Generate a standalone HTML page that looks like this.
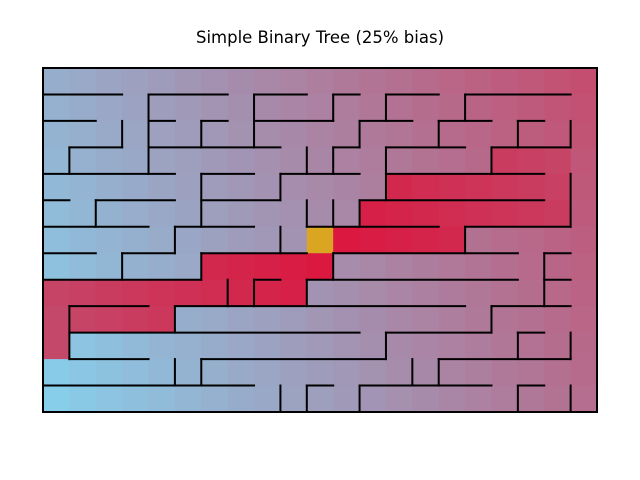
<!DOCTYPE html>
<html><head><meta charset="utf-8"><style>
body{margin:0;background:#fff;width:640px;height:480px;overflow:hidden}
svg{display:block}
</style></head><body>
<svg id="chart" width="640" height="480">
<text x="320" y="43" text-anchor="middle" font-family="DejaVu Sans, Liberation Sans, sans-serif" font-size="16.5" fill="#000">Simple Binary Tree (25% bias)</text>
<g id="cells"></g>
<g id="walls"></g>
</svg>
<script>
const cols = 21, rows = 13;
const startCell = [10, 6];
const pathCells = [
 [10,7],[9,7],[8,7],[7,7],[6,7],
 [9,8],[8,8],[7,8],[6,8],[5,8],[4,8],[3,8],[2,8],[1,8],[0,8],
 [4,9],[3,9],[2,9],[1,9],[0,9],[0,10],
 [11,6],[12,6],[13,6],[14,6],[15,6],
 [12,5],[13,5],[14,5],[15,5],[16,5],[17,5],[18,5],[19,5],
 [13,4],[14,4],[15,4],[16,4],[17,4],[18,4],[19,4],
 [17,3],[18,3],[19,3]
];
const hWalls = [
 [1,0,3],[1,4,7],[1,8,10],[1,11,12],[1,13,15],[1,16,20],
 [2,0,2],[2,4,5],[2,6,7],[2,8,11],[2,12,14],[2,15,17],[2,18,19],
 [3,1,3],[3,4,9],[3,11,12],[3,13,16],[3,17,20],
 [4,0,5],[4,6,8],[4,9,12],[4,13,19],
 [5,0,1],[5,2,5],[5,6,9],[5,12,19],
 [6,0,4],[6,5,8],[6,10,15],[6,16,20],
 [7,0,2],[7,3,5],[7,6,10],[7,11,18],[7,19,20],
 [8,0,6],[8,8,9],[8,10,18],[8,19,20],
 [9,1,4],[9,5,16],[9,17,20],
 [10,1,12],[10,13,17],[10,18,19],
 [11,1,4],[11,6,13],[11,15,20],
 [12,0,8],[12,10,11],[12,12,17],[12,18,19]
];
const vWalls = [
 [4,1,4],[8,1,3],[11,1,2],[13,1,2],[16,1,2],
 [3,2,3],[6,2,3],[12,2,3],[15,2,3],[18,2,3],[20,2,3],
 [1,3,4],[10,3,4],[11,3,4],[13,3,5],[17,3,4],
 [20,4,6],[6,4,6],[9,4,5],
 [2,5,6],[10,5,6],[11,5,6],[12,5,6],
 [5,6,7],[9,6,7],[16,6,7],
 [3,7,8],[6,7,8],[11,7,8],[19,7,9],
 [7,8,9],[8,8,9],[10,8,9],
 [1,9,11],[5,9,10],[17,9,10],
 [13,10,11],[18,10,11],[20,10,11],
 [5,11,12],[6,11,12],[14,11,12],[15,11,12],
 [9,12,13],[10,12,13],[12,12,13],[18,12,13],[20,12,13]
];
const X0 = 43, X1 = 597, Y0 = 68, Y1 = 412;
const cw = (X1 - X0) / cols, ch = (Y1 - Y0) / rows;
const xs = c => X0 + c * cw, ys = r => Y0 + r * ch;
const NS = 'http://www.w3.org/2000/svg';
const mix = (a, b, t) => a.map((v, i) => Math.round(v + (b[i] - v) * t));
const blue = [135,206,235], pink = [196,78,112], crimson = [220,20,60], farPath = [196,72,106];
const cellsG = document.getElementById('cells');
const onPath = new Map(pathCells.map(p => [p[0]+','+p[1], p]));
for (let r = 0; r < rows; r++) for (let c = 0; c < cols; c++) {
  let col;
  if (c === startCell[0] && r === startCell[1]) col = [218,165,32];
  else if (onPath.has(c+','+r)) {
    const d = Math.abs(c - startCell[0]) + Math.abs(r - startCell[1]);
    col = mix(crimson, farPath, Math.min(1, d / 13));
  } else {
    const t = 0.75 * c / (cols - 1) + 0.25 * (rows - 1 - r) / (rows - 1);
    col = mix(blue, pink, t);
  }
  const rect = document.createElementNS(NS, 'rect');
  rect.setAttribute('x', xs(c)); rect.setAttribute('y', ys(r));
  rect.setAttribute('width', cw + 0.6); rect.setAttribute('height', ch + 0.6);
  rect.setAttribute('fill', 'rgb(' + col.join(',') + ')');
  
  
  cellsG.appendChild(rect);
}
const wallsG = document.getElementById('walls');
function line(x1, y1, x2, y2, name) {
  const l = document.createElementNS(NS, 'line');
  l.setAttribute('x1', x1); l.setAttribute('y1', y1); l.setAttribute('x2', x2); l.setAttribute('y2', y2);
  l.setAttribute('stroke', '#000'); l.setAttribute('stroke-width', '2'); l.setAttribute('stroke-linecap', 'square');
  
  
  wallsG.appendChild(l);
}
hWalls.forEach(w => line(xs(w[1]), ys(w[0]), xs(w[2]), ys(w[0]), 'horizontal-wall'));
vWalls.forEach(w => line(xs(w[0]), ys(w[1]), xs(w[0]), ys(w[2]), 'vertical-wall'));
const border = document.createElementNS(NS, 'rect');
border.setAttribute('x', X0); border.setAttribute('y', Y0);
border.setAttribute('width', X1 - X0); border.setAttribute('height', Y1 - Y0);
border.setAttribute('fill', 'none'); border.setAttribute('stroke', '#000'); border.setAttribute('stroke-width', '2');


wallsG.appendChild(border);
</script>
</body></html>
